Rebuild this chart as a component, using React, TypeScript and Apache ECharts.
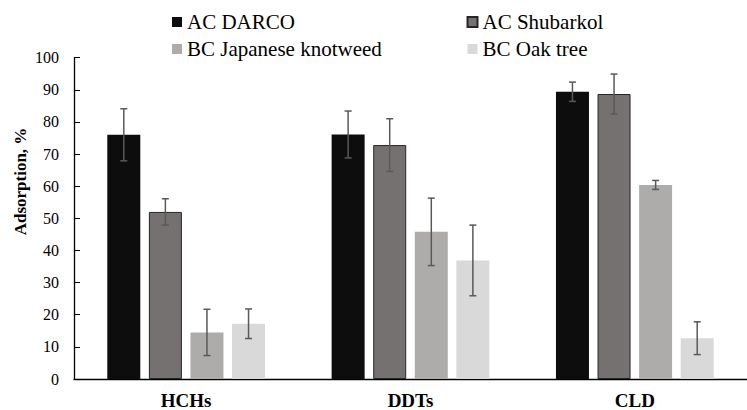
import React, { useEffect, useRef } from "react";
import * as echarts from "echarts";

const categories = ["HCHs", "DDTs", "CLD"];
const seriesNames = ["AC DARCO", "AC Shubarkol", "BC Japanese knotweed", "BC Oak tree"];
const acDarco = [76, 76.1, 89.4];
const acShubarkol = [52, 72.8, 88.7];
const bcJapanese = [14.5, 45.8, 60.4];
const bcOak = [17.2, 36.9, 12.7];
const errDarco = [8.1, 7.3, 3];
const errShubarkol = [4.1, 8.2, 6.2];
const errJapanese = [7.2, 10.5, 1.4];
const errOak = [4.6, 11, 5.1];
const yTicks = [0, 10, 20, 30, 40, 50, 60, 70, 80, 90, 100];

const colors = ["#0d0d0d", "#757171", "#aeabab", "#d9d9d9"];
const FONT = "Liberation Serif";

export default function App() {
  const ref = useRef<HTMLDivElement>(null);
  useEffect(() => {
    if (!ref.current) return;
    const chart = echarts.init(ref.current, undefined, { renderer: "svg" });
    const values = [acDarco, acShubarkol, bcJapanese, bcOak];
    const errs = [errDarco, errShubarkol, errJapanese, errOak];
    const errData: number[][] = [];
    values.forEach((vals, s) => {
      vals.forEach((v, c) => errData.push([c, v, errs[s][c], s]));
    });
    const barWidth = 33;
    const gapPct = 26;
    const step = barWidth * (1 + gapPct / 100);

    const bars = seriesNames.map((name, i) => ({
      name,
      type: "bar",
      data: values[i],
      barWidth,
      barGap: gapPct + "%",
      itemStyle: {
        color: colors[i],
        borderColor: i === 1 ? "#262626" : colors[i],
        borderWidth: i === 1 ? 1 : 0,
      },
    }));

    const legendText = {
      fontFamily: FONT,
      fontSize: 21,
      color: "#000",
      lineHeight: 21,
      rich: { n: { fontFamily: FONT, fontSize: 21, color: "#000", lineHeight: 21 } },
    };

    const legendBase = {
      orient: "vertical",
      top: 11.5,
      padding: 0,
      itemWidth: 10,
      itemHeight: 10,
      itemGap: 6,
      icon: "rect",
      formatter: (name: string) => "{n|" + name + "}",
      textStyle: legendText,
    };

    chart.setOption({
      animation: false,
      textStyle: { fontFamily: FONT },
      grid: { left: 74, top: 57.7, width: 684, bottom: 30, containLabel: false },
      legend: [
        { ...legendBase, data: [seriesNames[0], seriesNames[2]], left: 172 },
        { ...legendBase, data: [seriesNames[1], seriesNames[3]], left: 466.5 },
      ],
      xAxis: {
        type: "category",
        data: categories,
        axisLine: { lineStyle: { color: "#000", width: 1.3 } },
        axisTick: { show: false },
        axisLabel: { fontFamily: FONT, fontSize: 19, fontWeight: "bold", color: "#000", margin: 12 },
      },
      yAxis: {
        type: "value",
        min: yTicks[0],
        max: yTicks[yTicks.length - 1],
        interval: yTicks[1] - yTicks[0],
        axisLine: { show: true, lineStyle: { color: "#000", width: 1.3 } },
        axisTick: { show: true, inside: true, length: 6, lineStyle: { color: "#000" } },
        splitLine: { show: false },
        axisLabel: { fontFamily: FONT, fontSize: 16, color: "#000", margin: 15 },
      },
      graphic: [
        {
          type: "text",
          x: 20,
          y: 181.5,
          rotation: Math.PI / 2,
          style: {
            text: "Adsorption, %",
            font: "bold 17px 'Liberation Serif'",
            fill: "#000",
            align: "center",
            verticalAlign: "middle",
          },
        },
      ],
      series: [
        ...bars,
        {
          type: "custom",
          name: "errors",
          z: 10,
          data: errData,
          renderItem: (params: any, api: any) => {
            const c = api.value(0);
            const v = api.value(1);
            const e = api.value(2);
            const s = api.value(3);
            const off = (s - 1.5) * step;
            const top = api.coord([c, v + e]);
            const bot = api.coord([c, v - e]);
            const x = top[0] + off;
            const hw = 3.5;
            const st = { stroke: "#595959", lineWidth: 1.5 };
            return {
              type: "group",
              children: [
                { type: "line", shape: { x1: x, y1: top[1], x2: x, y2: bot[1] }, style: st },
                { type: "line", shape: { x1: x - hw, y1: top[1], x2: x + hw, y2: top[1] }, style: st },
                { type: "line", shape: { x1: x - hw, y1: bot[1], x2: x + hw, y2: bot[1] }, style: st },
              ],
            };
          },
        },
      ],
    });
    return () => chart.dispose();
  }, []);
  return (
    <div
      ref={ref}
      style={{ position: "absolute", left: 0, top: 0, width: 747, height: 410, background: "#fff" }}
    />
  );
}
